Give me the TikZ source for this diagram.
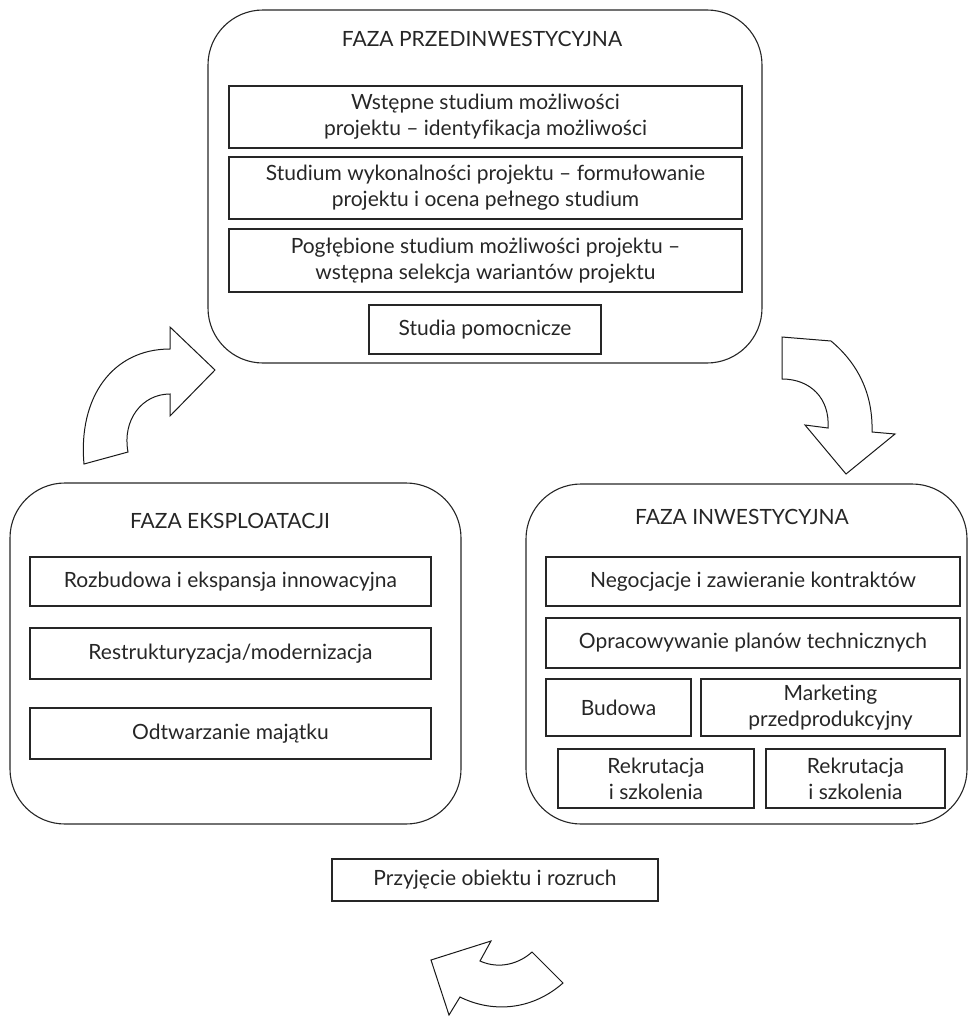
\documentclass[tikz,border=0pt]{standalone}
\usepackage{fontspec}
\setmainfont{Lato}[Ligatures=NoCommon]
\begin{document}
\begin{tikzpicture}[x=1pt,y=-1pt,
  line width=1.1pt,
  every node/.style={font=\fontsize{21}{26}\selectfont, text=black!85},
  phase/.style={draw=black!85, rounded corners=55pt, inner sep=0pt},
  item/.style={draw=black!85, inner sep=0pt, align=center},
  title/.style={inner sep=0pt},
  bentarrow/.style={draw=black!90, line width=1pt, fill=white, line join=miter}]
\useasboundingbox (0,0) rectangle (970,1017);

% pre-investment phase
\node[phase, minimum width=554pt, minimum height=353pt] (pre) at (485,186.5) {};
\node[title] (pretitle) at (482,39) {FAZA PRZEDINWESTYCYJNA};
\node[item, minimum width=513pt, minimum height=62pt] (p1) at (485.5,117)
  {Wstępne studium możliwości\\projektu – identyfikacja możliwości};
\node[item, minimum width=513pt, minimum height=62pt] (p2) at (485.5,188)
  {Studium wykonalności projektu – formułowanie\\projektu i ocena pełnego studium};
\node[item, minimum width=513pt, minimum height=63pt] (p3) at (485.5,260.5)
  {Pogłębione studium możliwości projektu –\\wstępna selekcja wariantów projektu};
\node[item, minimum width=232pt, minimum height=49pt] (p4) at (485,329.5) {Studia pomocnicze};

% operation phase
\node[phase, minimum width=451pt, minimum height=341pt] (ops) at (235.5,653.5) {};
\node[title] (opstitle) at (230,521) {FAZA EKSPLOATACJI};
\node[item, minimum width=401pt, minimum height=49pt] (o1) at (230.5,581.5) {Rozbudowa i ekspansja innowacyjna};
\node[item, minimum width=401pt, minimum height=51pt] (o2) at (230.5,653.5) {Restrukturyzacja/modernizacja};
\node[item, minimum width=401pt, minimum height=51pt] (o3) at (230.5,733.5) {Odtwarzanie majątku};

% investment phase
\node[phase, minimum width=441pt, minimum height=340pt] (inv) at (746.5,654) {};
\node[title] (invtitle) at (742,517) {FAZA INWESTYCYJNA};
\node[item, minimum width=414pt, minimum height=49pt] (i1) at (753,581.5) {Negocjacje i zawieranie kontraktów};
\node[item, minimum width=414pt, minimum height=50pt] (i2) at (753,643) {Opracowywanie planów technicznych};
\node[item, minimum width=145pt, minimum height=57pt] (i3) at (618.5,707.5) {Budowa};
\node[item, minimum width=259pt, minimum height=57pt] (i4) at (830.5,707.5) {Marketing\\przedprodukcyjny};
\node[item, minimum width=196pt, minimum height=59pt] (i5) at (656,778.5) {Rekrutacja\\i szkolenia};
\node[item, minimum width=179pt, minimum height=59pt] (i6) at (855.5,778.5) {Rekrutacja\\i szkolenia};

% commissioning
\node[item, minimum width=326pt, minimum height=42pt] (start) at (495,880) {Przyjęcie obiektu i rozruch};

% curved block arrows between the phases
\draw[bentarrow] (84,464) .. controls (78,398) and (112,349) .. (170,349)
  -- (170,327) -- (215,370) -- (170,416) -- (170,394)
  .. controls (142,394) and (122,420) .. (128,452) -- cycle;
\draw[bentarrow] (782,337) -- (831,341)
  .. controls (861,366) and (873,398) .. (872,432)
  -- (895,434) -- (846,474) -- (805,425) -- (828,428)
  .. controls (830,398) and (810,379) .. (782,379) -- cycle;
\draw[bentarrow] (532,952) -- (563,983)
  .. controls (530,1012) and (490,1012) .. (460,997)
  -- (449,1015) -- (431,960) -- (491,941) -- (480,961)
  .. controls (500,970) and (520,963) .. (532,952) -- cycle;
\end{tikzpicture}
\end{document}
